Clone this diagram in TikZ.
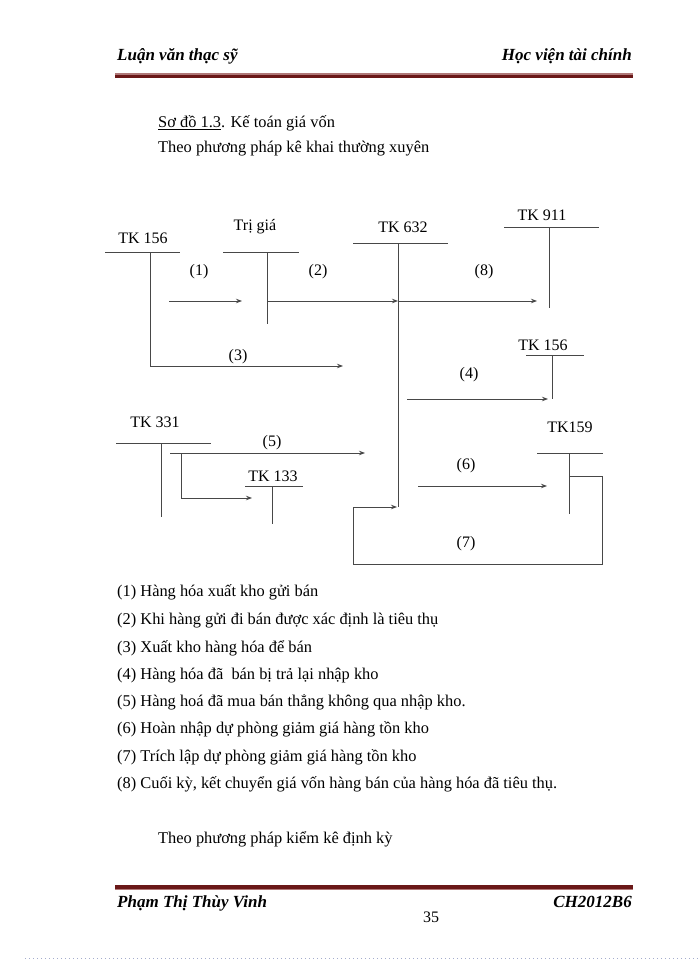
\documentclass[tikz,border=0pt]{standalone}
\usepackage{fontspec}
\setmainfont{Liberation Serif}
\usetikzlibrary{arrows.meta}
\definecolor{maroon}{HTML}{6A1818}
\definecolor{maroonlt}{HTML}{B07878}
\definecolor{ln}{HTML}{484848}
\definecolor{dotc}{HTML}{A4ACCC}
\begin{document}
\begin{tikzpicture}[x=1pt,y=-1pt,
  lbl/.style={font=\fontsize{16}{19}\selectfont, inner sep=0pt, anchor=base},
  txt/.style={font=\fontsize{16.4}{19}\selectfont, inner sep=0pt, anchor=base west},
  hdr/.style={font=\fontsize{17}{20}\selectfont\bfseries\itshape, inner sep=0pt},
  tline/.style={draw=ln, line width=1pt},
  arr/.style={draw=ln, line width=1pt, -{Stealth[length=6pt,width=4.5pt]}}]
\useasboundingbox[fill=white] (0,0) rectangle (700,960);
% header
\node[hdr, anchor=base west] (h1) at (117,61) {Luận văn thạc sỹ};
\node[hdr, anchor=base east] (h2) at (632,61) {Học viện tài chính};
\fill[maroonlt] (115,73.5) rectangle (633,74.8);
\fill[maroon] (115,74.8) rectangle (633,78.5);
% titles
\node[txt] (t1) at (158,128) {\underline{Sơ đồ 1.3}. Kế toán giá vốn};
\node[txt] (t2) at (158,153) {Theo phương pháp kê khai thường xuyên};
% account coordinates
\coordinate (a1L) at (105,252); \coordinate (a1R) at (180,252); \coordinate (a1T) at (150,252); \coordinate (a1B) at (150,366);
\coordinate (a2L) at (223,252); \coordinate (a2R) at (299,252); \coordinate (a2T) at (267,252); \coordinate (a2B) at (267,324);
\coordinate (a3L) at (353,243); \coordinate (a3R) at (448,243); \coordinate (a3T) at (398,243); \coordinate (a3B) at (398,507);
\coordinate (a4L) at (504,227); \coordinate (a4R) at (599,227); \coordinate (a4T) at (549,227); \coordinate (a4B) at (549,308);
\coordinate (a5L) at (526,355); \coordinate (a5R) at (584,355); \coordinate (a5T) at (552,355); \coordinate (a5B) at (552,399);
\coordinate (a6L) at (116,443); \coordinate (a6R) at (211,443); \coordinate (a6T) at (161,443); \coordinate (a6B) at (161,517);
\coordinate (a7L) at (245,486); \coordinate (a7R) at (303,486); \coordinate (a7T) at (272,486); \coordinate (a7B) at (272,524);
\coordinate (a8L) at (537,453); \coordinate (a8R) at (603,453); \coordinate (a8T) at (569,453); \coordinate (a8B) at (569,514);
% account labels
\node[lbl] (n1) at (143,243) {TK 156};
\node[lbl] (n2) at (255,230) {Trị giá};
\node[lbl] (n3) at (403,232) {TK 632};
\node[lbl] (n4) at (542,220) {TK 911};
\node[lbl] (n5) at (543,350) {TK 156};
\node[lbl] (n6) at (155,427) {TK 331};
\node[lbl] (n7) at (273,481) {TK 133};
\node[lbl] (n8) at (570,432) {TK159};
% T accounts
\foreach \k in {1,...,8}{
  \draw[tline] (a\k L) -- (a\k R);
  \draw[tline] (a\k T) -- (a\k B);
}
% flow coordinates
\coordinate (f1s) at (169,301); \coordinate (f1e) at (242,301);
\coordinate (f2s) at (267,301); \coordinate (f2e) at (398,301);
\coordinate (f8e) at (537,301);
\coordinate (f3e) at (343,366);
\coordinate (f4s) at (407,399); \coordinate (f4e) at (548,399);
\coordinate (f5s) at (170,453); \coordinate (f5e) at (365,453);
\coordinate (f5b) at (181,453); \coordinate (f5c) at (181,498); \coordinate (f5d) at (252,498);
\coordinate (f6s) at (418,486); \coordinate (f6e) at (547,486);
\coordinate (f7s) at (569,476); \coordinate (f7a) at (602,476); \coordinate (f7b) at (602,564);
\coordinate (f7c) at (353,564); \coordinate (f7d) at (353,507); \coordinate (f7e) at (397,507);
% arrows
\draw[arr] (f1s) -- (f1e);
\draw[arr] (f2s) -- (f2e);
\draw[arr] (f2e) -- (f8e);
\draw[arr] (a1B) -- (f3e);
\draw[arr] (f4s) -- (f4e);
\draw[arr] (f5s) -- (f5e);
\draw[arr] (f5b) -- (f5c) -- (f5d);
\draw[arr] (f6s) -- (f6e);
\draw[arr] (f7s) -- (f7a) -- (f7b) -- (f7c) -- (f7d) -- (f7e);
% arrow labels
\node[lbl] (l1) at (199,275) {(1)};
\node[lbl] (l2) at (318,275) {(2)};
\node[lbl] (l8) at (484,275) {(8)};
\node[lbl] (l3) at (238,360) {(3)};
\node[lbl] (l4) at (469,378) {(4)};
\node[lbl] (l5) at (272,446) {(5)};
\node[lbl] (l6) at (466,469) {(6)};
\node[lbl] (l7) at (466,547) {(7)};
% legend
\node[txt] (g1) at (117,596) {(1) Hàng hóa xuất kho gửi bán};
\node[txt] (g2) at (117,624) {(2) Khi hàng gửi đi bán được xác định là tiêu thụ};
\node[txt] (g3) at (117,652) {(3) Xuất kho hàng hóa để bán};
\node[txt] (g4) at (117,679) {(4) Hàng hóa đã\ \ bán bị trả lại nhập kho};
\node[txt] (g5) at (117,706) {(5) Hàng hoá đã mua bán thẳng không qua nhập kho.};
\node[txt] (g6) at (117,733) {(6) Hoàn nhập dự phòng giảm giá hàng tồn kho};
\node[txt] (g7) at (117,761) {(7) Trích lập dự phòng giảm giá hàng tồn kho};
\node[txt] (g8) at (117,788) {(8) Cuối kỳ, kết chuyển giá vốn hàng bán của hàng hóa đã tiêu thụ.};
\node[txt] (t3) at (158,843) {Theo phương pháp kiểm kê định kỳ};
% footer
\fill[maroon] (115,885) rectangle (633,888.7);
\fill[maroonlt] (115,888.7) rectangle (633,890);
\node[hdr, anchor=base west] (f1) at (117,907) {Phạm Thị Thùy Vinh};
\node[hdr, anchor=base east] (f2) at (632,907) {CH2012B6};
\node[lbl] (pg) at (431,922) {35};
\draw[dotc, line width=1.2pt, dash pattern=on 1.2pt off 2.8pt] (25,958.5) -- (700,958.5);
\end{tikzpicture}
\end{document}
